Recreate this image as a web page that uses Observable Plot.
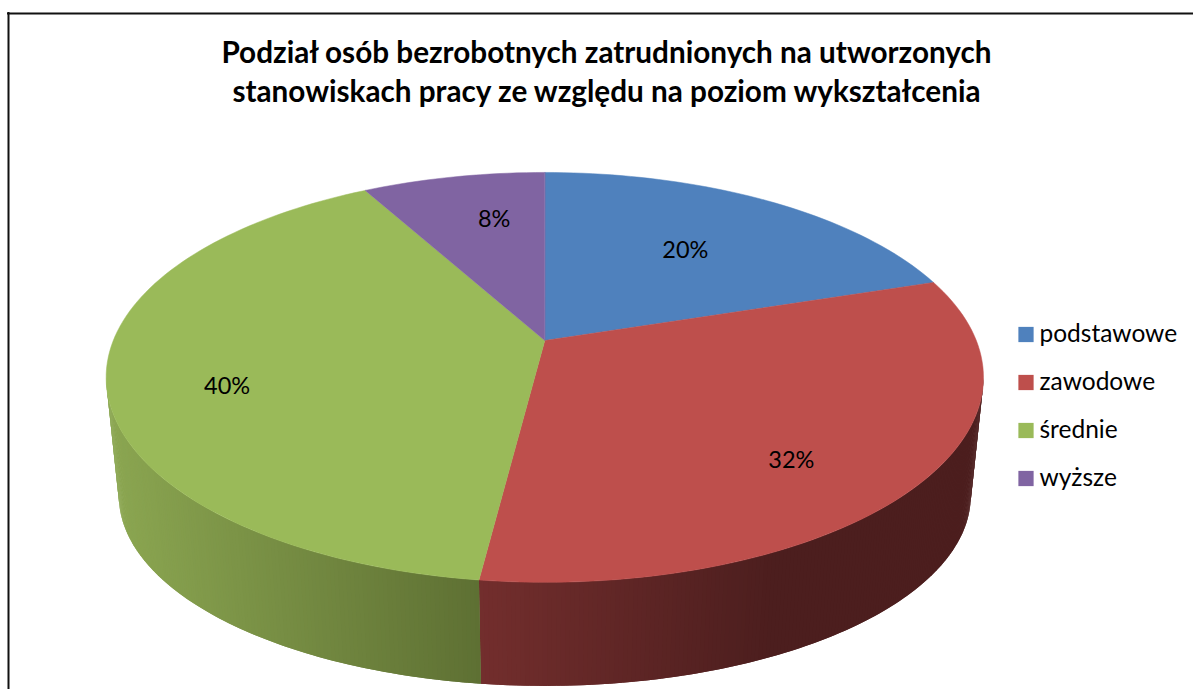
<!DOCTYPE html>
<html lang="pl">
<head>
<meta charset="utf-8">
<script src="https://cdn.jsdelivr.net/npm/d3@7"></script>
<script src="https://cdn.jsdelivr.net/npm/@observablehq/plot@0.6"></script>
<style>html,body{margin:0;padding:0;background:#fff}svg{display:block}</style>
</head>
<body>
<div id="chart"></div>
<script>
const titleLines = ["Podział osób bezrobotnych zatrudnionych na utworzonych", "stanowiskach pracy ze względu na poziom wykształcenia"];
const categories = ["podstawowe", "zawodowe", "średnie", "wyższe"];
const shares = [20, 32, 40, 8];
const colors = ["#4f81bd", "#be4f4c", "#9aba59", "#8064a2"];
const sideLight = ["#4f81bd", "#732e2d", "#8ba651", "#8064a2"];
const sideDark = ["#2f4d71", "#4c1e1e", "#5e7033", "#4c3c61"];

const W = 1193, H = 689;
const FONT = "Lato, 'Open Sans', sans-serif";

// Perspective view of the pie disc: angle runs clockwise from 12 o'clock.
const K = 0.18;
const topFace = {cx: 544.3, cy: 340, a: 431.5, b: 198.3};
const baseFace = {cx: 544.3, cy: 461, a: 419, b: 184};
function project(face, deg, r = 1) {
  const t = deg * Math.PI / 180;
  const u = r * Math.sin(t), v = -r * Math.cos(t), d = 1 - K * v;
  return [face.cx + face.a * u / d, face.cy + face.b * v / d];
}

const total = d3.sum(shares);
let running = 0;
const slices = categories.map((name, i) => {
  const start = running / total * 360;
  running += shares[i];
  return {name, i, start, end: running / total * 360, share: shares[i]};
});

// Top face polygons
const topPts = slices.flatMap(s => {
  const n = Math.ceil((s.end - s.start) / 1.5);
  const pts = [[topFace.cx, topFace.cy]];
  for (let k = 0; k <= n; k++) pts.push(project(topFace, s.start + (s.end - s.start) * k / n));
  return pts.map(p => ({slice: s.i, x: p[0], y: p[1], fill: colors[s.i]}));
});

// Visible rim: shaded strips, each overlapping the next so no seams show
const rimFrom = 180 / Math.PI * Math.acos(-K), rimTo = 360 - rimFrom;
const ramps = slices.map(s => s.i === 2
  ? d3.scaleLinear().domain([120, 479]).range([sideLight[2], sideDark[2]]).clamp(true)
  : d3.scaleLinear().domain([480, 770]).range([sideLight[s.i], sideDark[s.i]]).clamp(true));
const rimPts = [];
slices.forEach(s => {
  const a0 = Math.max(s.start, rimFrom), a1 = Math.min(s.end, rimTo);
  if (a1 <= a0) return;
  const n = Math.ceil((a1 - a0) / 0.5);
  const step = (a1 - a0) / n;
  // Paint from the far end of each slice towards the boundary at 52%, so the boundary stays crisp
  for (let j = 0; j < n; j++) {
    const k = s.i === 2 ? j : n - 1 - j;
    const d0 = s.i === 2 ? Math.max(a0, a0 + k * step - step) : a0 + k * step;
    const d1 = s.i === 2 ? a0 + (k + 1) * step : Math.min(a1, a0 + (k + 2) * step);
    const A = project(topFace, d0), B = project(topFace, d1), C = project(baseFace, d1), D = project(baseFace, d0);
    const col = d3.color(ramps[s.i]((C[0] + D[0]) / 2)).formatHex();
    [A, B, C, D].forEach(p => rimPts.push({id: `${s.i}-${j}`, x: p[0], y: p[1], fill: col}));
  }
});

// Percent labels sit around the slice middles, nudged as in the original
const nudges = [[-10, 5], [13, 31], [-36, 21], [12, -9]];
const labels = slices.map(s => {
  const p = project(topFace, (s.start + s.end) / 2, 0.65);
  return {x: p[0] + nudges[s.i][0], y: p[1] + nudges[s.i][1], text: s.share + "%"};
});

const legend = categories.map((name, i) => ({name, color: colors[i], y: 334 + i * 48}));
const title = titleLines.map((text, i) => ({text, y: 53 + i * 39}));

const chart = Plot.plot({
  width: W, height: H,
  margin: 0,
  style: {background: "#fff", fontFamily: FONT},
  x: {domain: [0, W], range: [0, W], axis: null},
  y: {domain: [0, H], range: [0, H], axis: null},
  marks: [
    Plot.ruleX([8], {y1: 12, y2: H, stroke: "#111", strokeWidth: 2}),
    Plot.ruleY([13], {x1: 7, x2: W, stroke: "#111", strokeWidth: 2}),
    Plot.line(rimPts, {x: "x", y: "y", z: "id", fill: "fill", curve: "linear-closed"}),
    Plot.line(topPts, {x: "x", y: "y", z: "slice", fill: "fill", stroke: "fill", strokeWidth: 0.5, curve: "linear-closed"}),
    Plot.text(labels, {x: "x", y: "y", text: "text", fontSize: 23.5, fill: "#000", textAnchor: "middle"}),
    Plot.text(title, {x: () => 606, y: "y", text: "text", fontSize: 29.7, fontWeight: 700, fill: "#000", textAnchor: "middle"}),
    Plot.dot(legend, {x: () => 1025.5, y: "y", symbol: "square", r: 8.6, fill: "color"}),
    Plot.text(legend, {x: () => 1039, y: "y", text: "name", fontSize: 24.5, fill: "#000", textAnchor: "start"})
  ]
});
document.getElementById("chart").append(chart);
</script>
</body>
</html>
